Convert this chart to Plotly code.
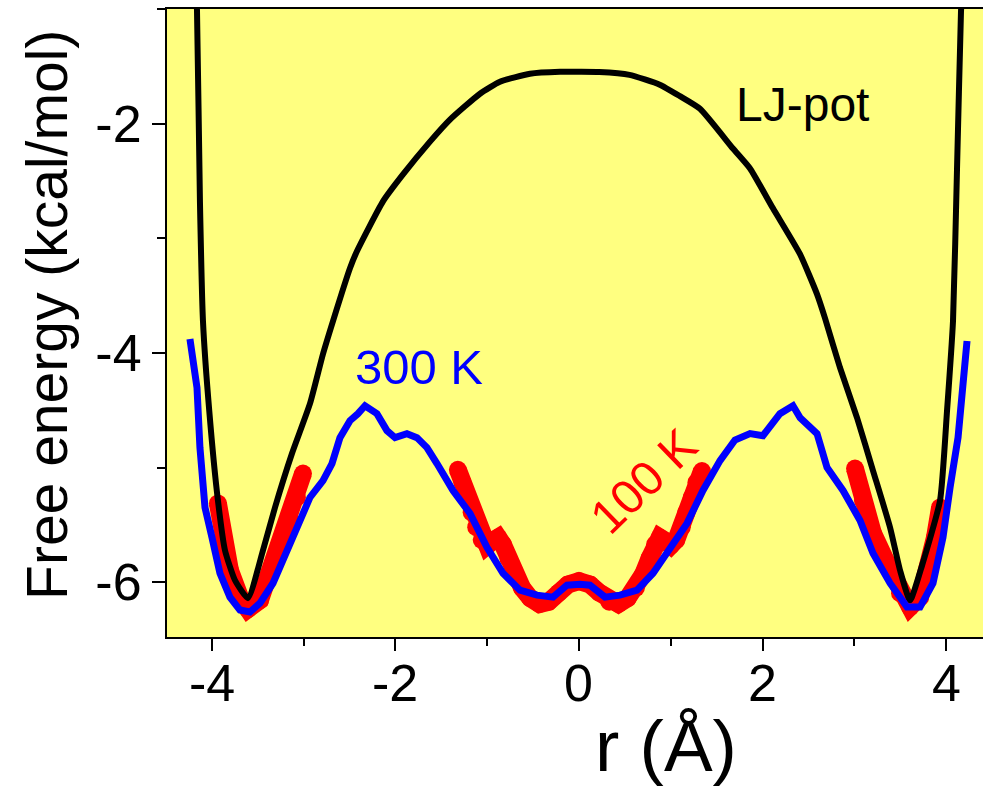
import plotly.graph_objects as go

# ---- Lennard-Jones potential (black) ----
lj_r = [-4.18, -4.163, -4.131, -4.098, -4.03, -3.935, -3.858, -3.749, -3.608,
        -3.444, -3.313, -3.128, -2.932, -2.790, -2.681, -2.496, -2.420, -2.136, -1.918,
        -1.624, -1.406, -1.079, -0.861, -0.534, -0.207, 0.0, 0.22, 0.55, 0.88, 1.10, 1.319,
        1.678, 1.864, 2.114, 2.409, 2.594, 2.681, 2.845, 3.030, 3.204, 3.390, 3.499, 3.608,
        3.74, 3.935, 4.011, 4.076, 4.120, 4.163, 4.18]
lj_e = [-0.70, -1.017, -2.678, -3.722, -4.500, -5.287, -5.722, -5.983, -6.139,
        -5.722, -5.348, -4.878, -4.443, -4.009, -3.722, -3.261, -3.113, -2.678, -2.443,
        -2.157, -1.965, -1.739, -1.635, -1.565, -1.548, -1.548, -1.550, -1.575, -1.660,
        -1.760, -1.870, -2.217, -2.391, -2.739, -3.139, -3.487, -3.696, -4.130, -4.565,
        -5.026, -5.522, -5.896, -6.157, -5.850, -5.287, -4.504, -3.722, -2.391,
        -1.026, -0.70]

# ---- 300 K free energy profile (blue) ----
t300_r = [-4.24, -4.163, -4.131, -4.076, -4.0, -3.913, -3.804, -3.695, -3.586, -3.477,
          -3.335, -3.226, -3.073, -2.932, -2.790, -2.692, -2.605, -2.496, -2.409, -2.332,
          -2.202, -2.093, -2.005, -1.875, -1.766, -1.657, -1.548, -1.373, -1.188, -1.003,
          -0.828, -0.643, -0.458, -0.283, -0.131, 0.011, 0.120, 0.283, 0.447, 0.632,
          0.807, 0.992, 1.177, 1.351, 1.537, 1.700, 1.864, 2.005, 2.190, 2.332, 2.410,
          2.594, 2.703, 2.877, 3.063, 3.204, 3.390, 3.575, 3.717, 3.858, 3.967, 4.044,
          4.131, 4.229]
t300_e = [-3.878, -4.304, -4.826, -5.348, -5.609, -5.922, -6.130, -6.243, -6.260, -6.183,
          -6.009, -5.809, -5.522, -5.261, -5.113, -4.965, -4.739, -4.591, -4.530, -4.461,
          -4.530, -4.678, -4.739, -4.704, -4.739, -4.826, -4.965, -5.200, -5.400, -5.696,
          -5.922, -6.070, -6.113, -6.130, -6.026, -6.017, -6.026, -6.130, -6.113, -6.070,
          -5.922, -5.696, -5.487, -5.200, -4.939, -4.760, -4.704, -4.722, -4.530, -4.461,
          -4.565, -4.704, -5.000, -5.200, -5.461, -5.748, -6.009, -6.217, -6.217, -6.009,
          -5.609, -5.174, -4.739, -3.896]

# ---- 100 K free energy profile (red), three sampled segments ----
t100_left_r = [-3.935, -3.880, -3.804, -3.695, -3.608, -3.477, -3.368, -3.259, -3.150,
               -3.074, -3.008]
t100_left_e = [-5.313, -5.609, -5.896, -6.130, -6.235, -6.157, -5.922, -5.696, -5.461,
               -5.261, -5.052]
t100_mid_r = [-1.32, -1.27, -1.22, -1.17, -1.12, -1.06, -1.00, -0.94, -0.88, -0.83, -0.77,
              -0.70, -0.62, -0.53, -0.43, -0.33, -0.22, -0.12, 0.0, 0.12, 0.22, 0.33, 0.43,
              0.53, 0.62, 0.70, 0.77, 0.83, 0.88, 0.94, 1.00, 1.06, 1.12, 1.17, 1.23, 1.28,
              1.34]
t100_mid_e = [-5.02, -5.13, -5.26, -5.39, -5.52, -5.63, -5.68, -5.64, -5.61, -5.67, -5.79,
              -5.93, -6.05, -6.14, -6.19, -6.17, -6.09, -6.02, -5.99, -6.02, -6.09, -6.17,
              -6.19, -6.14, -6.05, -5.93, -5.79, -5.67, -5.61, -5.64, -5.68, -5.63, -5.52,
              -5.39, -5.26, -5.13, -5.03]
t100_right_r = [3.008, 3.095, 3.204, 3.357, 3.499, 3.608, 3.717, 3.826, 3.880, 3.935]
t100_right_e = [-5.009, -5.287, -5.574, -5.835, -6.096, -6.217, -6.130, -5.835, -5.609,
                -5.348]

x_tickvals = [-4, -2, 0, 2, 4]
x_ticktext = ["-4", "-2", "0", "2", "4"]
y_tickvals = [-6, -4, -2]
y_ticktext = ["-6", "-4", "-2"]

FONT = "Liberation Sans, Arial, Helvetica, sans-serif"
RED = "#ff0000"
BLUE = "#0000ff"

fig = go.Figure()

for seg_r, seg_e in [(t100_left_r, t100_left_e), (t100_mid_r, t100_mid_e),
                     (t100_right_r, t100_right_e)]:
    fig.add_trace(go.Scatter(
        x=seg_r, y=seg_e, mode="lines+markers",
        line=dict(color=RED, width=18),
        marker=dict(color=RED, size=18, line=dict(width=0)),
        showlegend=False, hoverinfo="skip"))

fig.add_trace(go.Scatter(x=lj_r, y=lj_e, mode="lines",
                         line=dict(color="black", width=6, shape="spline", smoothing=0.5),
                         showlegend=False, hoverinfo="skip"))

fig.add_trace(go.Scatter(x=t300_r, y=t300_e, mode="lines",
                         line=dict(color=BLUE, width=7),
                         showlegend=False, hoverinfo="skip"))

# curve labels
fig.add_annotation(x=2.44, y=-1.835, text="LJ-pot", showarrow=False,
                   xanchor="center", yanchor="middle",
                   font=dict(family=FONT, size=48, color="black"))
fig.add_annotation(x=-1.744, y=-4.12, text="300 K", showarrow=False,
                   xanchor="center", yanchor="middle",
                   font=dict(family=FONT, size=49, color=BLUE))
fig.add_annotation(x=0.70, y=-5.12, text="100 K", showarrow=False, textangle=-44,
                   xanchor="center", yanchor="middle",
                   font=dict(family=FONT, size=48, color=RED))

# x tick labels placed just below the axis
for tv, tt in zip(x_tickvals, x_ticktext):
    fig.add_annotation(x=tv, xref="x", y=-0.0732, yref="paper", text=tt,
                       showarrow=False, xanchor="center", yanchor="middle",
                       font=dict(family=FONT, size=52, color="black"))

# axis titles
fig.add_annotation(xref="paper", yref="paper", x=-0.147, y=0.513,
                   xanchor="center", yanchor="middle",
                   text="Free energy (kcal/mol)", showarrow=False, textangle=-90,
                   font=dict(family=FONT, size=57, color="black"))
fig.add_annotation(xref="paper", yref="paper", x=0.611, y=-0.172,
                   xanchor="center", yanchor="middle",
                   text="r (Å)", showarrow=False,
                   font=dict(family=FONT, size=73, color="black"))

fig.update_xaxes(range=[-4.49, 4.403], showgrid=False, zeroline=False,
                 showline=True, linecolor="black", linewidth=2, mirror=True,
                 ticks="outside", ticklen=12, tickwidth=2, tickcolor="black",
                 tickvals=x_tickvals, showticklabels=False,
                 minor=dict(dtick=1, tick0=0, ticks="outside", ticklen=7,
                            tickwidth=2, tickcolor="black"))
fig.update_yaxes(range=[-6.478, -1.0], showgrid=False, zeroline=False,
                 showline=True, linecolor="black", linewidth=2,
                 ticks="outside", ticklen=13, tickwidth=2, tickcolor="black",
                 tickvals=y_tickvals, ticktext=y_ticktext,
                 tickfont=dict(family=FONT, size=52, color="black"),
                 minor=dict(dtick=1, tick0=0, ticks="outside", ticklen=8,
                            tickwidth=2, tickcolor="black"))

fig.update_layout(width=983, height=789,
                  margin=dict(l=167, r=0, t=9, b=152),
                  paper_bgcolor="white", plot_bgcolor="#ffff80",
                  font=dict(family=FONT))

fig.write_html("out.html")
